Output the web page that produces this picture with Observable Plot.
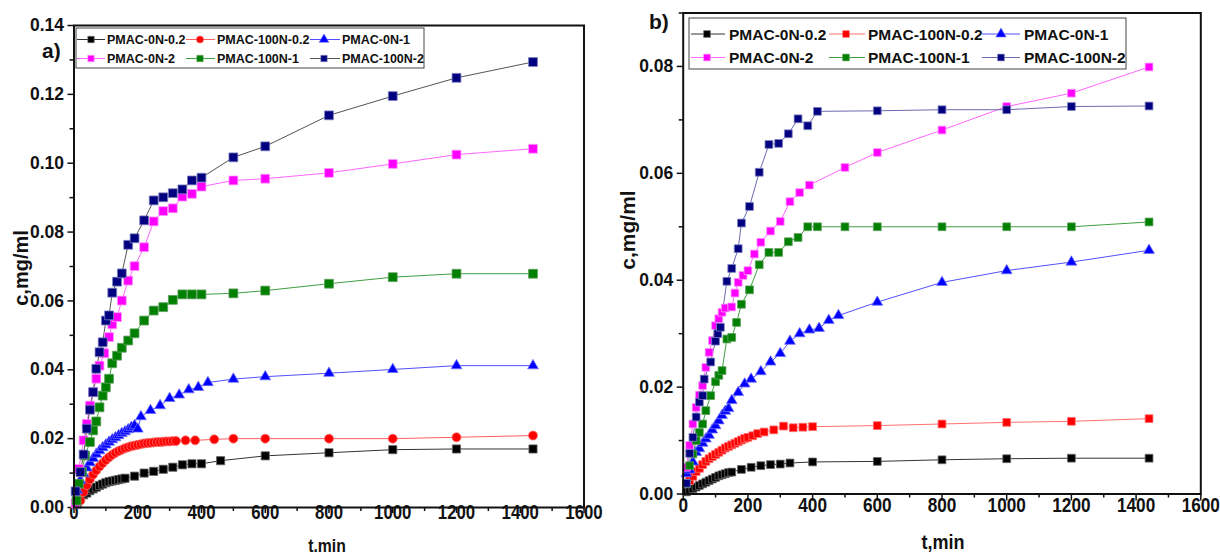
<!DOCTYPE html>
<html><head><meta charset="utf-8">
<script src="https://cdn.jsdelivr.net/npm/d3@7"></script>
<script src="https://cdn.jsdelivr.net/npm/@observablehq/plot@0.6"></script>
<style>
body{margin:0;background:#fff;}
#wrap{position:relative;width:1220px;height:555px;overflow:hidden;background:#fff;}
#pa,#pb{position:absolute;top:0;}
#pa{left:0} #pb{left:610px}
svg{overflow:visible}
</style></head><body><div id="wrap"><div id="pa"></div><div id="pb"></div></div>
<script>
// ---------- panel a data ----------
const seriesNames = ["PMAC-0N-0.2","PMAC-100N-0.2","PMAC-0N-1","PMAC-0N-2","PMAC-100N-1","PMAC-100N-2"];
const xTicks = [0,200,400,600,800,1000,1200,1400,1600];

const a_t_0N_02 = [10,20,30,40,50,60,70,80,90,100,110,120,130,140,150,160,190,220,250,280,310,340,370,400,460,600,800,1000,1200,1440];
const a_c_0N_02 = [0.0010,0.0030,0.0037,0.0042,0.0049,0.0054,0.0059,0.0064,0.0068,0.0072,0.0075,0.0077,0.0079,0.0081,0.0083,0.0085,0.0091,0.0100,0.0105,0.0111,0.0117,0.0124,0.0127,0.0127,0.0136,0.0150,0.0159,0.0168,0.0170,0.0170];

const a_t_100N_02 = [20,30,40,50,60,70,80,90,100,110,120,130,140,150,160,170,180,190,200,210,220,230,240,250,260,270,280,290,300,310,320,350,380,440,500,600,800,1000,1200,1440];
const a_c_100N_02 = [0.0020,0.0045,0.0065,0.0082,0.0096,0.0108,0.0119,0.0129,0.0138,0.0146,0.0153,0.0159,0.0164,0.0168,0.0172,0.0175,0.0178,0.0180,0.0182,0.0184,0.0186,0.0187,0.0188,0.0189,0.0190,0.0190,0.0191,0.0192,0.0192,0.0193,0.0193,0.0195,0.0195,0.0198,0.0200,0.0200,0.0200,0.0200,0.0204,0.0209];

const a_t_0N_1 = [10,20,30,40,50,60,70,80,90,100,110,120,130,140,150,160,170,180,190,200,210,240,270,300,330,360,390,420,500,600,800,1000,1200,1440];
const a_c_0N_1 = [0.0050,0.0078,0.0098,0.0115,0.0130,0.0143,0.0155,0.0165,0.0174,0.0182,0.0190,0.0197,0.0203,0.0209,0.0215,0.0220,0.0226,0.0233,0.0238,0.0228,0.0264,0.0282,0.0296,0.0317,0.0327,0.0342,0.0349,0.0363,0.0373,0.0380,0.0390,0.0401,0.0412,0.0412];

const a_t_0N_2 = [5,15,30,40,50,60,70,80,95,110,120,135,150,170,190,220,250,280,310,340,370,400,500,600,800,1000,1200,1440];
const a_c_0N_2 = [0.0012,0.0112,0.0195,0.0243,0.0296,0.0335,0.0374,0.0412,0.0448,0.0495,0.0532,0.0553,0.0601,0.0659,0.0701,0.0756,0.0831,0.0861,0.0869,0.0903,0.0911,0.0932,0.0950,0.0955,0.0972,0.0998,0.1025,0.1042];

const a_t_100N_1 = [8,15,25,35,50,60,70,80,90,100,110,120,135,150,170,190,220,250,280,310,340,370,400,500,600,800,1000,1200,1440];
const a_c_100N_1 = [0.0020,0.0069,0.0103,0.0151,0.0190,0.0224,0.0250,0.0291,0.0325,0.0349,0.0374,0.0419,0.0441,0.0464,0.0485,0.0506,0.0543,0.0572,0.0582,0.0603,0.0619,0.0619,0.0619,0.0622,0.0630,0.0650,0.0669,0.0679,0.0679];

const a_t_100N_2 = [5,20,30,40,50,60,70,80,90,100,110,120,135,150,170,190,220,250,280,310,340,370,400,500,600,800,1000,1200,1440];
const a_c_100N_2 = [0.0047,0.0103,0.0154,0.0229,0.0284,0.0335,0.0403,0.0451,0.0480,0.0543,0.0558,0.0624,0.0656,0.0680,0.0763,0.0782,0.0834,0.0892,0.0901,0.0913,0.0924,0.0950,0.0958,0.1017,0.1049,0.1139,0.1195,0.1248,0.1294];

// ---------- panel b data ----------
const b_t_0N_02 = [10,20,30,40,50,60,70,80,90,100,110,120,130,140,150,180,210,240,270,300,330,400,600,800,1000,1200,1440];
const b_c_0N_02 = [0.0004,0.0007,0.0010,0.0013,0.0016,0.0019,0.0022,0.0025,0.0028,0.0031,0.0034,0.0036,0.0038,0.0040,0.0041,0.0046,0.0050,0.0053,0.0055,0.0056,0.0058,0.0060,0.0061,0.0064,0.0066,0.0067,0.0067];

const b_t_100N_02 = [20,30,40,50,60,70,80,90,100,110,120,130,140,150,160,170,180,190,200,215,230,250,280,310,340,370,400,600,800,1000,1200,1440];
const b_c_100N_02 = [0.0025,0.0033,0.0042,0.0048,0.0055,0.0061,0.0066,0.0070,0.0074,0.0078,0.0082,0.0086,0.0089,0.0092,0.0095,0.0098,0.0101,0.0104,0.0106,0.0109,0.0113,0.0116,0.0120,0.0127,0.0124,0.0125,0.0126,0.0128,0.0131,0.0134,0.0136,0.0141];

const b_t_0N_1 = [10,20,30,40,50,60,70,80,90,100,110,120,130,140,150,170,190,210,240,270,300,330,360,390,420,450,480,600,800,1000,1200,1440];
const b_c_0N_1 = [0.0038,0.0045,0.0060,0.0078,0.0085,0.0095,0.0103,0.0110,0.0120,0.0128,0.0137,0.0147,0.0155,0.0160,0.0175,0.0190,0.0206,0.0215,0.0229,0.0247,0.0263,0.0286,0.0300,0.0307,0.0310,0.0325,0.0334,0.0359,0.0396,0.0418,0.0434,0.0456];

const b_t_0N_2 = [10,20,30,40,50,60,70,80,90,100,110,120,130,150,160,170,185,200,220,240,270,300,330,360,390,500,600,800,1000,1200,1440];
const b_c_0N_2 = [0.0050,0.0091,0.0131,0.0162,0.0185,0.0203,0.0237,0.0265,0.0287,0.0315,0.0328,0.0340,0.0348,0.0350,0.0376,0.0396,0.0409,0.0418,0.0449,0.0471,0.0492,0.0510,0.0547,0.0564,0.0578,0.0611,0.0639,0.0681,0.0725,0.0750,0.0799];

const b_t_100N_1 = [10,20,30,40,50,60,70,85,100,110,120,135,150,165,180,205,235,265,295,325,355,385,415,500,600,800,1000,1200,1440];
const b_c_100N_1 = [0.0019,0.0053,0.0075,0.0100,0.0115,0.0131,0.0156,0.0184,0.0210,0.0222,0.0231,0.0290,0.0293,0.0321,0.0355,0.0382,0.0429,0.0452,0.0452,0.0472,0.0480,0.0500,0.0500,0.0500,0.0500,0.0500,0.0500,0.0500,0.0509];

const b_t_100N_2 = [10,20,30,40,50,60,65,85,100,107,115,135,150,170,180,205,235,265,295,325,355,385,415,600,800,1000,1200,1440];
const b_c_100N_2 = [0.0020,0.0076,0.0106,0.0144,0.0172,0.0184,0.0215,0.0247,0.0286,0.0300,0.0312,0.0398,0.0422,0.0459,0.0507,0.0538,0.0602,0.0654,0.0656,0.0674,0.0702,0.0689,0.0716,0.0717,0.0719,0.0719,0.0725,0.0726];

// ---------- helpers ----------
const rows = (t, c) => t.map((x, i) => ({t: x, c: c[i]}));
const FR = "'Liberation Sans',Arial,sans-serif";

function seriesMarks(spec) {
  const out = [];
  for (const s of spec) out.push(Plot.line(s.data, {x: "t", y: "c", stroke: s.line, strokeWidth: 1}));
  for (const s of spec) out.push(Plot.dot(s.data, {x: "t", y: "c", symbol: s.symbol, r: s.r, fill: s.fill, stroke: s.edge, strokeWidth: 0.8}));
  return out;
}

function axes(yMajor, yMinor, xSize, xPad, xFs) {
  return [
    Plot.axisX({ticks: xTicks, tickSize: xSize, tickPadding: xPad, tickFormat: d => String(d), label: null,
      fontSize: xFs, fontFamily: FR, fontWeight: "bold", strokeWidth: 1.5, stroke: "#111", fill: "#111"}),
    Plot.axisX({ticks: d3.range(100, 1600, 200), tickSize: 4, tickFormat: () => "", label: null, strokeWidth: 1.5, stroke: "#111"}),
    Plot.axisY({ticks: yMajor, tickSize: 6, tickPadding: 4, tickFormat: d3.format(".2f"), label: null,
      fontSize: 17.5, fontFamily: FR, fontWeight: "bold", strokeWidth: 1.5, stroke: "#111", fill: "#111"}),
    Plot.axisY({ticks: yMinor, tickSize: 4, tickFormat: () => "", label: null, strokeWidth: 1.5, stroke: "#111"})
  ];
}

// narrow the x tick labels horizontally, like the condensed face of the original
function narrowX(svg, k) {
  svg.selectAll('g[aria-label="x-axis tick label"] text').each(function() {
    const el = d3.select(this);
    const x = +el.attr("x") || 0, y = +el.attr("y") || 0;
    const tr = el.attr("transform") || "";
    el.attr("x", null).attr("y", null).attr("transform", `${tr} translate(${x},${y}) scale(${k},1)`);
  });
}

function addLegend(svg, L, items) {
  const g = svg.append("g").attr("text-anchor", "start");
  g.append("rect").attr("x", L.x0).attr("y", L.y0).attr("width", L.x1 - L.x0).attr("height", L.y1 - L.y0)
    .attr("fill", "white").attr("stroke", "#444").attr("stroke-width", 1);
  items.forEach((it, i) => {
    const col = i % 3, row = Math.floor(i / 3);
    const y = L.rows[row], c = L.cols[col];
    g.append("line").attr("x1", c[0]).attr("x2", c[1]).attr("y1", y).attr("y2", y).attr("stroke", it.line).attr("stroke-width", 1);
    const sym = it.symbol === "circle" ? d3.symbolCircle : it.symbol === "triangle" ? d3.symbolTriangle : d3.symbolSquare;
    g.append("path").attr("d", d3.symbol(sym, Math.PI * L.r * L.r)()).attr("transform", `translate(${c[2]},${y})`)
      .attr("fill", it.fill).attr("stroke", it.edge).attr("stroke-width", 0.6);
    g.append("text").attr("x", c[3]).attr("y", y).attr("dy", "0.36em").attr("text-anchor", "start").text(it.name)
      .attr("font-family", FR).attr("font-weight", "bold").attr("font-size", L.fs).attr("fill", "#111");
  });
}

function addText(svg, x, y, txt, fs, rotate, sx) {
  const t = svg.append("text").attr("font-family", FR).attr("font-weight", "bold").attr("font-size", fs)
    .attr("fill", "#111").attr("text-anchor", "middle").text(txt);
  if (rotate) t.attr("transform", `translate(${x},${y}) rotate(-90)`).attr("dy", "0.36em");
  else t.attr("transform", `translate(${x},${y}) scale(${sx || 1},1)`);
}

// ---------- panel a ----------
const specA = [
  {name: seriesNames[0], data: rows(a_t_0N_02, a_c_0N_02), symbol: "square", r: 4.6, fill: "#000", edge: "#666", line: "#333"},
  {name: seriesNames[1], data: rows(a_t_100N_02, a_c_100N_02), symbol: "circle", r: 4.5, fill: "#ff0000", edge: "#ff7070", line: "#ff6060"},
  {name: seriesNames[2], data: rows(a_t_0N_1, a_c_0N_1), symbol: "triangle", r: 4.0, fill: "#0000ff", edge: "#7070ff", line: "#5050ff"},
  {name: seriesNames[3], data: rows(a_t_0N_2, a_c_0N_2), symbol: "square", r: 5.0, fill: "#ff00ff", edge: "#ff99ff", line: "#ff66ff"},
  {name: seriesNames[4], data: rows(a_t_100N_1, a_c_100N_1), symbol: "square", r: 5.0, fill: "#008000", edge: "#60a060", line: "#40a040"},
  {name: seriesNames[5], data: rows(a_t_100N_2, a_c_100N_2), symbol: "square", r: 5.0, fill: "#000080", edge: "#8080c0", line: "#555"}
];
const chartA = Plot.plot({
  width: 610, height: 555,
  marginLeft: 73.5, marginRight: 26.5, marginTop: 25, marginBottom: 48,
  x: {domain: [0, 1600]}, y: {domain: [0, 0.14]},
  style: {background: "white", overflow: "visible"},
  marks: [
    ...axes(d3.range(0, 8).map(i => i * 0.02), d3.range(0, 7).map(i => i * 0.02 + 0.01), 6, 5, 20),
    ...seriesMarks(specA),
    Plot.frame({stroke: "#111", strokeWidth: 2})
  ]
});
document.getElementById("pa").appendChild(chartA);
const sa = d3.select(chartA);
narrowX(sa, 0.84);
addLegend(sa, {x0: 76, x1: 424, y0: 28, y1: 68, rows: [39.5, 58.5], r: 3.6, fs: 12.5,
  cols: [[77, 105, 91, 107], [186, 215, 200, 217], [310, 340, 324, 342]]}, specA);
addText(sa, 21, 268, "c,mg/ml", 20, true);
addText(sa, 327, 551.5, "t.min", 17.5, false, 0.9);
sa.append("text").attr("x", 42).attr("y", 58).attr("text-anchor", "start").attr("font-family", FR).attr("font-weight", "bold").attr("font-size", 21).attr("fill", "#111").text("a)");

// ---------- panel b ----------
const specB = [
  {name: seriesNames[0], data: rows(b_t_0N_02, b_c_0N_02), symbol: "square", r: 4.4, fill: "#000", edge: "#666", line: "#333"},
  {name: seriesNames[1], data: rows(b_t_100N_02, b_c_100N_02), symbol: "square", r: 4.4, fill: "#ff0000", edge: "#ff7070", line: "#ff7070"},
  {name: seriesNames[2], data: rows(b_t_0N_1, b_c_0N_1), symbol: "triangle", r: 4.0, fill: "#0000ff", edge: "#7070ff", line: "#5050ff"},
  {name: seriesNames[3], data: rows(b_t_0N_2, b_c_0N_2), symbol: "square", r: 4.4, fill: "#ff00ff", edge: "#ff99ff", line: "#ff66ff"},
  {name: seriesNames[4], data: rows(b_t_100N_1, b_c_100N_1), symbol: "square", r: 4.4, fill: "#008000", edge: "#60a060", line: "#40a040"},
  {name: seriesNames[5], data: rows(b_t_100N_2, b_c_100N_2), symbol: "square", r: 4.4, fill: "#000080", edge: "#8080c0", line: "#6a6ab0"}
];
const chartB = Plot.plot({
  width: 610, height: 555,
  marginLeft: 72.7, marginRight: 19.7, marginTop: 12.5, marginBottom: 61.5,
  x: {domain: [0, 1600]}, y: {domain: [0, 0.09]},
  style: {background: "white", overflow: "visible"},
  marks: [
    ...axes(d3.range(0, 5).map(i => i * 0.02), d3.range(0, 5).map(i => i * 0.02 + 0.01), 7, 11, 21),
    ...seriesMarks(specB),
    Plot.frame({stroke: "#111", strokeWidth: 2})
  ]
});
document.getElementById("pb").appendChild(chartB);
const sb = d3.select(chartB);
narrowX(sb, 0.82);
addLegend(sb, {x0: 79, x1: 516, y0: 18, y1: 69, rows: [34, 57.5], r: 3.8, fs: 15.5,
  cols: [[81, 115, 97, 119], [219, 255, 236, 258], [372, 410, 391, 414]]}, specB);
addText(sb, 17, 230, "c,mg/ml", 21, true);
addText(sb, 333, 549, "t,min", 21, false, 0.86);
sb.append("text").attr("x", 39).attr("y", 29).attr("text-anchor", "start").attr("font-family", FR).attr("font-weight", "bold").attr("font-size", 21).attr("fill", "#111").text("b)");
</script>
</body></html>
